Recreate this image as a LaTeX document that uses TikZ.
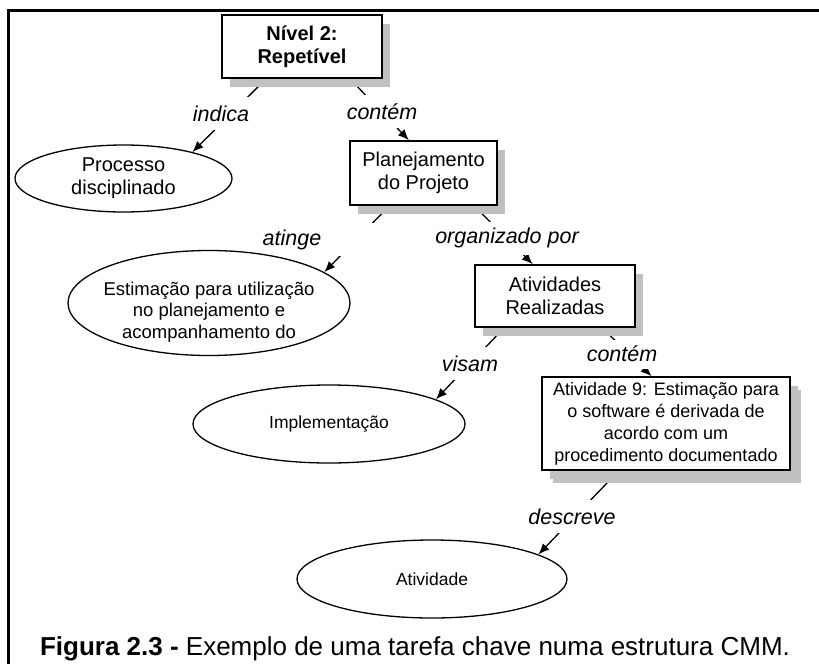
\documentclass[tikz,border=0pt]{standalone}
\usepackage{fontspec}
\setmainfont{Liberation Sans}
\usetikzlibrary{arrows.meta,shadows,backgrounds,shapes.geometric}
\definecolor{shadowgray}{HTML}{C0C0C0}
\begin{document}
\begin{tikzpicture}[x=1pt,y=-1pt,
  box/.style={draw,line width=1.6pt,fill=white,rectangle,inner sep=0pt,align=center,
    general shadow={fill=shadowgray,shadow xshift=8pt,shadow yshift=-9pt}},
  ell/.style={draw,line width=1.3pt,fill=white,ellipse,inner sep=0pt,align=center},
  lbl/.style={fill=white,inner sep=3.5pt,minimum height=33pt,font=\fontsize{21.5}{25}\selectfont\itshape},
  arr/.style={line width=1.3pt,-{Latex[length=11pt,width=9pt]}},
  big/.style={font=\fontsize{20}{23}\selectfont},
]
\useasboundingbox (0,0) rectangle (819,664);
\begin{scope}[on background layer]
\fill[white] (0,0) rectangle (819,664);
\end{scope}
\draw[line width=3pt] (8,664) -- (8,10) -- (819,10);

% nodes
\node[box,big,font=\bfseries\fontsize{20}{23}\selectfont,minimum width=160pt,minimum height=63pt] (nivel) at (302,46.5) {Nível 2:\\Repetível};
\node[ell,big,minimum width=217pt,minimum height=67pt] (proc) at (123.5,178.5) {Processo\\disciplinado};
\node[box,big,minimum width=147pt,minimum height=64pt] (plan) at (423.5,173) {Planejamento\\do Projeto};
\node[ell,minimum width=282pt,minimum height=105pt] (estim) at (209,303) {};
\node[font=\fontsize{18.5}{21.5}\selectfont,align=center,inner sep=0pt] (estimtext) at (209,312) {Estimação para utilização\\no planejamento e\\acompanhamento do};
\node[box,big,minimum width=160pt,minimum height=62pt] (ativ) at (555,296) {Atividades\\Realizadas};
\node[ell,font=\fontsize{17.5}{21}\selectfont,minimum width=272pt,minimum height=78pt] (impl) at (329,424) {Implementação};
\node[box,font=\fontsize{18}{22}\selectfont,minimum width=248pt,minimum height=93pt,
  general shadow={fill=shadowgray,shadow xshift=11pt,shadow yshift=-13pt}] (a9) at (666,423.5)
  {Atividade 9: Estimação para\\o software é derivada de\\acordo com um\\procedimento documentado};
\node[ell,font=\fontsize{17.5}{21}\selectfont,minimum width=270pt,minimum height=78pt] (atv) at (432,579) {Atividade};

% connectors (under the nodes), broken by their labels
\begin{scope}[on background layer]
\draw[arr] (nivel.222) -- (proc.21);
\draw[arr] (nivel.-34) -- (plan.114);
\draw[arr] (plan.224) -- (estim.15);
\draw[arr] (plan.-33) -- (ativ.125);
\draw[arr] (ativ.212) -- (impl.13.5);
\draw[arr] (ativ.-34.6) -- (a9.107);
\draw[arr] (a9.225) -- (atv.13.5);
\node[lbl] (l1) at (221,113.5) {indica};
\node[lbl] (l2) at (382,111.5) {contém};
\node[lbl,minimum width=166pt] (l3) at (292,239.5) {atinge};
\node[lbl] (l4) at (507,238) {organizado por};
\node[lbl] (l5) at (470,363.5) {visam};
\node[lbl,minimum height=29pt] (l6) at (622,354) {contém};
\node[lbl] (l7) at (572,516.5) {descreve};
\end{scope}

\node[font=\fontsize{26}{30}\selectfont,anchor=base,inner sep=0pt] (cap) at (415,655)
  {\textbf{Figura 2.3 -} Exemplo de uma tarefa chave numa estrutura CMM.};
\end{tikzpicture}
\end{document}
